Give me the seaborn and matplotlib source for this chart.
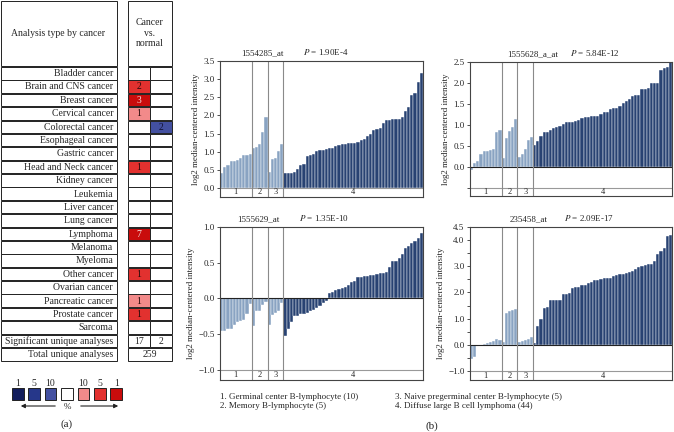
import matplotlib
matplotlib.use("Agg")
import pandas as pd
import matplotlib.pyplot as plt
import seaborn as sns
from matplotlib.patches import Rectangle

# ---- (a) Oncomine summary table ----
cancer_types = [
    "Bladder cancer", "Brain and CNS cancer", "Breast cancer", "Cervical cancer",
    "Colorectal cancer", "Esophageal cancer", "Gastric cancer", "Head and Neck cancer",
    "Kidney cancer", "Leukemia", "Liver cancer", "Lung cancer", "Lymphoma",
    "Melanoma", "Myeloma", "Other cancer", "Ovarian cancer", "Pancreatic cancer",
    "Prostate cancer", "Sarcoma",
]
up_counts = {"Brain and CNS cancer": 2, "Breast cancer": 3, "Cervical cancer": 1,
             "Head and Neck cancer": 1, "Lymphoma": 7, "Other cancer": 1,
             "Pancreatic cancer": 1, "Prostate cancer": 1}
up_rank = {"Brain and CNS cancer": 5, "Breast cancer": 1, "Cervical cancer": 10,
           "Head and Neck cancer": 5, "Lymphoma": 1, "Other cancer": 5,
           "Pancreatic cancer": 10, "Prostate cancer": 5}
down_counts = {"Colorectal cancer": 2}
down_rank = {"Colorectal cancer": 10}
significant_up = 17
significant_down = 2
total_analyses = 259
legend_ranks = [1, 5, 10]

# ---- (b) expression by cell type ----
group_labels = ["1", "2", "3", "4"]
group_sizes = [10, 5, 5, 44]
group_names = [
    "1. Germinal center B-lymphocyte (10)",
    "2. Memory B-lymphocyte (5)",
    "3. Naive pregerminal center B-lymphocyte (5)",
    "4. Diffuse large B cell lymphoma (44)",
]
probe_ids = ["1554285_at", "1555628_a_at", "1555629_at", "235458_at"]
p_values = ["1.90E-4", "5.84E-12", "1.35E-10", "2.09E-17"]

vals_1554285 = [
    0.40, 0.58, 0.62, 0.73, 0.75, 0.76, 0.83, 0.90, 0.90, 0.93,
    1.09, 1.12, 1.21, 1.53, 1.96,
    0.44, 0.79, 0.82, 1.03, 1.21,
    0.40, 0.40, 0.41, 0.44, 0.53, 0.62, 0.66, 0.88, 0.90, 0.93,
    1.01, 1.04, 1.05, 1.06, 1.10, 1.11, 1.15, 1.18, 1.20, 1.22,
    1.24, 1.24, 1.24, 1.28, 1.32, 1.36, 1.43, 1.50, 1.61, 1.63,
    1.65, 1.78, 1.86, 1.88, 1.90, 1.90, 1.90, 1.96, 2.12, 2.22,
    2.55, 2.62, 2.93, 3.17,
]
vals_1555628 = [
    -0.06, 0.10, 0.14, 0.31, 0.37, 0.39, 0.40, 0.42, 0.84, 0.88,
    0.22, 0.68, 0.86, 0.95, 1.15,
    0.25, 0.32, 0.44, 0.64, 0.71,
    0.52, 0.63, 0.74, 0.84, 0.84, 0.88, 0.94, 0.95, 0.98, 1.03,
    1.06, 1.07, 1.08, 1.09, 1.12, 1.16, 1.18, 1.20, 1.21, 1.21,
    1.22, 1.26, 1.32, 1.32, 1.37, 1.40, 1.40, 1.45, 1.52, 1.57,
    1.63, 1.70, 1.71, 1.72, 1.85, 1.86, 1.87, 2.00, 2.00, 2.00,
    2.31, 2.36, 2.38, 2.50,
]
vals_1555629 = [
    -0.46, -0.46, -0.43, -0.42, -0.37, -0.33, -0.32, -0.30, -0.22, -0.07,
    -0.38, -0.18, -0.17, -0.09, -0.05,
    -0.37, -0.23, -0.20, -0.17, -0.06,
    -0.53, -0.42, -0.33, -0.25, -0.24, -0.22, -0.21, -0.20, -0.18, -0.16,
    -0.13, -0.10, -0.06, -0.03, 0.08, 0.09, 0.12, 0.13, 0.14, 0.16,
    0.19, 0.23, 0.25, 0.30, 0.30, 0.31, 0.32, 0.33, 0.33, 0.34,
    0.35, 0.36, 0.37, 0.44, 0.52, 0.53, 0.56, 0.62, 0.70, 0.73,
    0.77, 0.80, 0.85, 0.91,
]
vals_235458 = [
    -0.55, -0.47, -0.05, -0.04, 0.05, 0.08, 0.10, 0.14, 0.22, 0.17,
    0.12, 1.20, 1.30, 1.32, 1.38,
    0.10, 0.15, 0.18, 0.22, 0.32,
    0.08, 0.72, 1.00, 1.40, 1.45, 1.70, 1.72, 1.72, 1.72, 1.95,
    1.96, 1.98, 2.18, 2.20, 2.22, 2.28, 2.30, 2.35, 2.40, 2.46,
    2.48, 2.52, 2.55, 2.55, 2.57, 2.62, 2.66, 2.70, 2.70, 2.75,
    2.78, 2.82, 2.88, 2.96, 3.00, 3.04, 3.07, 3.07, 3.20, 3.46,
    3.60, 3.68, 4.15, 4.20,
]

W, H = 674, 432
sns.set_style("ticks")
plt.rcParams["font.family"] = ["Liberation Serif", "DejaVu Serif"]
plt.rcParams["mathtext.fontset"] = "stix"

fig = plt.figure(figsize=(W / 100, H / 100), dpi=100)


def px_axes(x0, y0, x1, y1):
    return fig.add_axes([x0 / W, 1 - y1 / H, (x1 - x0) / W, (y1 - y0) / H])


red_shades = {1: "#c90c0c", 5: "#e2312f", 10: "#f28a8a"}
blue_shades = {1: "#121d5c", 5: "#26378a", 10: "#4350a0"}

# table canvas in pixel coordinates
tab = fig.add_axes([0, 0, 1, 1])
tab.set_xlim(0, W)
tab.set_ylim(H, 0)
tab.axis("off")

def box(x0, y0, x1, y1, fc="white", lw=0.7):
    tab.add_patch(Rectangle((x0, y0), x1 - x0, y1 - y0, fc=fc, ec="#222222", lw=lw))

box(0.5, 0.5, 117, 66)
tab.text(58, 33, "Analysis type by cancer", ha="center", va="center", fontsize=7)
box(128, 0.5, 172, 66)
tab.text(150, 33, "Cancer\nvs.\nnormal", ha="center", va="center", fontsize=7,
         linespacing=1.25)

row_h = 13.38
rows = cancer_types + ["Significant unique analyses", "Total unique analyses"]
for i, name in enumerate(rows):
    y0 = 67 + i * row_h
    y1 = y0 + row_h - 0.8
    ym = (y0 + y1) / 2
    box(0.5, y0, 117, y1)
    tab.text(113, ym + 0.3, name, ha="right", va="center", fontsize=7)
    if name == "Total unique analyses":
        box(128, y0, 172, y1)
        tab.text(150, ym + 0.3, str(total_analyses), ha="center", va="center", fontsize=7)
        continue
    fc1 = red_shades[up_rank[name]] if name in up_counts else "white"
    fc2 = blue_shades[down_rank[name]] if name in down_counts else "white"
    box(128, y0, 150, y1, fc=fc1)
    box(150, y0, 172, y1, fc=fc2)
    if name in up_counts:
        col = "#f5dede" if up_rank[name] == 1 else "#2a0a0a"
        tab.text(139, ym + 0.3, str(up_counts[name]), ha="center", va="center",
                 fontsize=7, color=col)
    if name in down_counts:
        tab.text(161, ym + 0.3, str(down_counts[name]), ha="center", va="center",
                 fontsize=7, color="#101030")
    if name == "Significant unique analyses":
        tab.text(139, ym + 0.3, str(significant_up), ha="center", va="center", fontsize=7)
        tab.text(161, ym + 0.3, str(significant_down), ha="center", va="center", fontsize=7)

# colour key
key_colors = [blue_shades[r] for r in legend_ranks] + ["white"] + \
             [red_shades[r] for r in legend_ranks[::-1]]
key_labels = [str(r) for r in legend_ranks] + [""] + [str(r) for r in legend_ranks[::-1]]
for k, (c, lab) in enumerate(zip(key_colors, key_labels)):
    x0 = 12 + k * 16.4
    box(x0, 388, x0 + 11.5, 400, fc=c, lw=0.7)
    if lab:
        tab.text(x0 + 5.75, 383, lab, ha="center", va="center", fontsize=7)
tab.annotate("", xy=(18, 406), xytext=(58, 406),
             arrowprops=dict(arrowstyle="-|>", color="#222222", lw=0.8, mutation_scale=6))
tab.annotate("", xy=(121, 406), xytext=(78, 406),
             arrowprops=dict(arrowstyle="-|>", color="#222222", lw=0.8, mutation_scale=6))
tab.text(67, 407, "%", ha="center", va="center", fontsize=6.5)
tab.text(67, 424, "(a)", ha="center", va="center", fontsize=8)

# ---- (b) bar panels ----
groups = [g for g, n in zip(group_labels, group_sizes) for _ in range(n)]
bar_palette = {"1": "#7fa2cc", "2": "#7fa2cc", "3": "#7fa2cc", "4": "#1c3e7e"}
boundaries = [9.5, 14.5, 19.5]
centers = [4.5, 12, 17, 41.5]

panels = [
    # values, pixel box, ylim, major ticks, labelled, strip line, title x fractions
    (vals_1554285, (220, 61, 423, 197), (-0.25, 3.5),
     [0, 0.5, 1, 1.5, 2, 2.5, 3, 3.5], None, 0.0, (0.21, 0.52)),
    (vals_1555628, (470, 62, 672, 196), (-0.69, 2.5),
     [-0.5, 0, 0.5, 1, 1.5, 2, 2.5], [-0.5], -0.5, (0.31, 0.62)),
    (vals_1555629, (220, 227, 423, 380), (-1.14, 1.0),
     [-1, -0.5, 0, 0.5, 1], None, -1.0, (0.19, 0.51)),
    (vals_235458, (470, 227, 672, 380), (-1.34, 4.5),
     [-1, -0.5, 0, 0.5, 1, 1.5, 2, 2.5, 3, 3.5, 4, 4.5],
     [-0.5, 0.5, 1.5, 2.5, 3.5], -1.0, (0.29, 0.59)),
]

for (vals, pbox, ylim, ticks, blank, strip, tx), probe, pv in zip(panels, probe_ids, p_values):
    ax = px_axes(*pbox)
    df = pd.DataFrame({"sample": range(len(vals)), "value": vals, "group": groups})
    sns.barplot(data=df, x="sample", y="value", hue="group", hue_order=group_labels,
                palette=bar_palette, dodge=False, width=1.0, edgecolor="white",
                linewidth=0.3, errorbar=None, legend=False, ax=ax)
    ax.set_xlim(-0.5, len(vals) - 0.5)
    ax.set_ylim(*ylim)
    ax.set_xticks([])
    ax.set_xlabel("")
    ax.set_yticks(ticks)
    blank = blank or []
    ax.set_yticklabels(["" if t in blank else f"{t:.1f}".replace("-", "\u2212")
                        for t in ticks])
    ax.tick_params(axis="y", length=2.5, width=0.6, labelsize=6.5, pad=1.5,
                   color="#333333")
    ax.set_ylabel("log2 median-centered intensity", fontsize=6.5, labelpad=2)
    for s in ax.spines.values():
        s.set_visible(True)
        s.set_color("#444444")
        s.set_linewidth(0.8)
    if strip != 0.0:
        ax.axhline(0, color="#222222", lw=0.8)
    ax.axhline(strip, color="#999999", lw=0.8)
    for b in boundaries:
        ax.axvline(b, color="#8a8a8a", lw=0.8)
    for c, lab in zip(centers, group_labels):
        ax.text(c, (ylim[0] + strip) / 2, lab, ha="center", va="center", fontsize=6)
    ax.annotate(probe, xy=(tx[0], 1), xycoords="axes fraction", xytext=(0, 3),
                textcoords="offset points", ha="center", va="bottom", fontsize=6.5)
    ax.annotate(r"$\it{P}$ = " + pv, xy=(tx[1], 1), xycoords="axes fraction",
                xytext=(0, 3), textcoords="offset points", ha="center", va="bottom",
                fontsize=6.5)

tab.text(220, 397, group_names[0], ha="left", va="center", fontsize=6.5)
tab.text(220, 406, group_names[1], ha="left", va="center", fontsize=6.5)
tab.text(395, 397, group_names[2], ha="left", va="center", fontsize=6.5)
tab.text(395, 406, group_names[3], ha="left", va="center", fontsize=6.5)
tab.text(432, 426, "(b)", ha="center", va="center", fontsize=8)

fig.savefig("out.png", dpi=100)
